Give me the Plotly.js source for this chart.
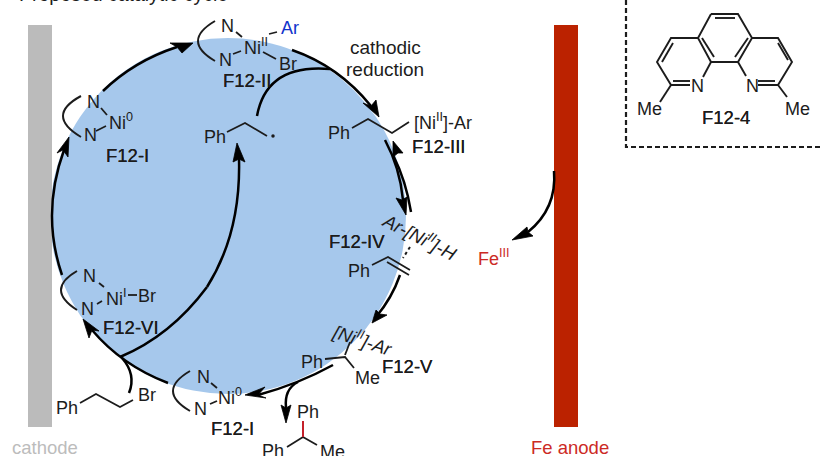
<!DOCTYPE html>
<html><head><meta charset="utf-8">
<script src="https://cdn.plot.ly/plotly-3.0.1.min.js"></script>
<style>html,body{margin:0;padding:0;background:#fff}#c{width:822px;height:456px}</style>
</head><body><div id="c"></div>
<script>
// Scheme geometry, in picture pixels (the axes run 0-822 and 456-0).
const discCentre = [228, 216], discRadius = 178;
const cathodeBar = [28, 25, 52, 427], anodeBar = [554, 25, 578, 427];

const thinBonds = [
  [[101,108],[107,115]], [[96,131],[106,126]],
  [[236,32],[242,37]], [[233,54],[241,51]], [[263,52],[276,59]],
  [[227,132],[245,123],[267,136]],
  [[352,128],[368,119],[392,133],[409,122]],
  [[372,265],[388,257],[410,270]], [[387,262],[409,275]],
  [[350,342],[345,355]], [[325,359],[345,357],[354,368]],
  [[287,447],[303,437],[317,445]],
  [[211,383],[217,388]], [[210,404],[217,401]],
  [[99,283],[104,287]], [[97,304],[102,301]], [[128,295],[137,295]],
  [[80,403],[96,394],[120,407],[133,400]]
];
const ringBonds = [
  [[711,14],[738,14],[752,38],[738,62],[711,62],[698,38],[711,14]],
  [[698,38],[671,38],[657,62],[671,85],[690,85]], [[703,77],[711,62]],
  [[752,38],[778,38],[792,62],[778,85],[758,85]], [[738,62],[746,76]],
  [[671,85],[660,102]], [[778,85],[787,97]],
  [[715,18],[735,18]], [[662,62],[673,43]], [[673,81],[690,81]],
  [[702,38],[714,57]], [[748,38],[735,57]], [[778,43],[788,60]], [[758,81],[775,81]]
];
const arylBond = [[[269,34],[277,32]]];
const redBond = [[[303,421],[303,437]]];
const hydrideBond = [[[410,247],[403,258]]];
const boxEdge = [[626,0],[626,147],[822,147]];

// Each curve: start, point half way along, end.
const ligandArcs = [
  [[81,96],[63,116],[81,137]],
  [[215,21],[198,41],[215,61]],
  [[190,371],[173,391],[190,411]],
  [[77,271],[61,290],[77,310]]
];
const cycleArcs = [
  [[62,275],[52,213],[64,150]],
  [[103,91],[137,65],[177,47]],
  [[292,50],[335,72],[371,106]],
  [[393,155],[404,182],[411,212]],
  [[385,140],[397,169],[403,200]],
  [[400,275],[390,297],[376,317]],
  [[333,365],[297,382],[258,395]],
  [[168,383],[126,361],[92,330]],
  [[120,357],[167,329],[207,287]],
  [[207,287],[232,228],[239,159]],
  [[330,69],[280,78],[257,116]],
  [[129,393],[131,375],[122,358]],
  [[298,382],[288,392],[286,408]],
  [[554,171],[549,205],[528,232]]
];
const arrowHeads = [
  [[69,137],[57,153],[63,150],[68,157]],
  [[193,43],[170,43],[177,47],[182,53]],
  [[379,117],[363,103],[371,106],[376,100]],
  [[393,141],[393,157],[398,153],[403,153]],
  [[406,215],[396,198],[402,200],[407,197]],
  [[372,323],[376,310],[380,314],[387,315]],
  [[245,395],[265,387],[258,395],[266,398]],
  [[83,319],[89,338],[92,330],[99,331]],
  [[237,143],[233,162],[239,159],[245,162]],
  [[286,423],[281,405],[286,408],[291,405]],
  [[512,240],[527,227],[528,232],[533,236]]
];
const radicalDot = [[273,136]];

const atomLabels = [
  ['N',93,102],['N',90,135],['Ni<sup>0</sup>',121,121],
  ['N',227,26],['N',225,60],['Ni<sup>II</sup>',256,46],['Br',288,64],
  ['Ph',215,137],
  ['Ph',339,133],['[Ni<sup>II</sup>]-Ar',443,121],
  ['Ph',359,271],
  ['Ph',312,362],['Me',367,378],
  ['Ph',308,412],['Ph',273,451],['Me',332,452],
  ['N',203,377],['N',200,409],['Ni<sup>0</sup>',230,396],
  ['N',89,276],['N',87,309],['Ni<sup>I</sup>',116,297],['Br',147,296],
  ['Ph',67,408],['Br',147,395],
  ['N',697,86],['N',752,86],['Me',649,109],['Me',797,109]
];
const compoundLabels = [
  ['F12-I',127,155],['F12-II',247,80],['F12-III',438,146],['F12-IV',357,241],
  ['F12-V',407,366],['F12-I',232,428],['F12-VI',131,327],['F12-4',726,117]
];
const stepLabels = [['cathodic',385,47],['reduction',385,69]];
const slantedLabels = [
  ['Ar-[Ni<sup>II</sup>]-H',420,236,27],
  ['[Ni<sup>II</sup>]-Ar',362,339,18]
];
const sectionTitle = 'Proposed catalytic cycle';
const cathodeName = 'cathode', anodeName = 'Fe anode', arylName = 'Ar', ironName = 'Fe<sup>III</sup>';

function flat(paths){
  const x=[],y=[];
  paths.forEach(p=>{p.forEach(q=>{x.push(q[0]);y.push(q[1]);});x.push(null);y.push(null);});
  return {x,y};
}
function lines(paths,color,width,dash){
  const f=flat(paths);
  return {type:'scatter',mode:'lines',x:f.x,y:f.y,hoverinfo:'skip',
    line:{color:color,width:width,dash:dash||'solid',simplify:false}};
}
function curve(a,color,width){
  const cx=2*a[1][0]-(a[0][0]+a[2][0])/2, cy=2*a[1][1]-(a[0][1]+a[2][1])/2;
  return {type:'path',xref:'x',yref:'y',layer:'above',
    path:`M ${a[0][0]} ${a[0][1]} Q ${cx} ${cy} ${a[2][0]} ${a[2][1]}`,
    line:{color:color,width:width},fillcolor:'rgba(0,0,0,0)'};
}
const INK='#1c1c1c', FONT='"Liberation Sans", Arial, sans-serif';

const traces = [];
traces.push(lines(thinBonds,INK,1.8));
traces.push(lines(ringBonds,INK,1.9));
traces.push(lines(arylBond,INK,1.8));
traces.push(lines(redBond,'#c4202a',2));
traces.push(lines(hydrideBond,INK,2,'3px,3px'));
traces.push(lines([boxEdge],INK,2.2,'5px,3px'));
arrowHeads.forEach(h=>{
  const c=h.concat([h[0]]);
  traces.push({type:'scatter',mode:'lines',x:c.map(p=>p[0]),y:c.map(p=>p[1]),fill:'toself',
    fillcolor:'#000',line:{color:'#000',width:0.8},hoverinfo:'skip'});
});
traces.push({type:'scatter',mode:'markers',x:radicalDot.map(p=>p[0]),y:radicalDot.map(p=>p[1]),
  marker:{color:INK,size:3.5},hoverinfo:'skip'});

const shapes = [
  {type:'circle',xref:'x',yref:'y',x0:discCentre[0]-discRadius,x1:discCentre[0]+discRadius,
   y0:discCentre[1]-discRadius,y1:discCentre[1]+discRadius,fillcolor:'#a6c8ec',line:{width:0},layer:'below'},
  {type:'rect',xref:'x',yref:'y',x0:cathodeBar[0],y0:cathodeBar[1],x1:cathodeBar[2],y1:cathodeBar[3],
   fillcolor:'#bbbbbb',line:{width:0},layer:'below'},
  {type:'rect',xref:'x',yref:'y',x0:anodeBar[0],y0:anodeBar[1],x1:anodeBar[2],y1:anodeBar[3],
   fillcolor:'#bb2200',line:{width:0},layer:'below'}
];
ligandArcs.forEach(a=>shapes.push(curve(a,INK,2)));
cycleArcs.forEach(a=>shapes.push(curve(a,'#000',2.5)));

function note(text,x,y,size,color,extra,fontExtra){
  return Object.assign({text:text,x:x,y:y,xref:'x',yref:'y',showarrow:false,xanchor:'center',yanchor:'middle',
    borderpad:0,font:Object.assign({family:FONT,size:size,color:color},fontExtra||{})},extra||{});
}
const annotations = [];
atomLabels.forEach(l=>annotations.push(note(l[0],l[1],l[2],18,INK)));
compoundLabels.forEach(l=>annotations.push(note(l[0],l[1],l[2],18.5,INK,null,{shadow:'0 0 0.4px #1c1c1c'})));
stepLabels.forEach(l=>annotations.push(note(l[0],l[1],l[2],19,INK)));
slantedLabels.forEach(l=>annotations.push(note('<i>'+l[0]+'</i>',l[1],l[2],18.5,INK,{textangle:l[3]})));
annotations.push(note(sectionTitle,18,1+6/456,19.5,INK,{xanchor:'left',yref:'paper'}));
annotations.push(note(arylName,290,28,18,'#1133cc'));
annotations.push(note(cathodeName,45,447,18.5,'#bcbcbc'));
annotations.push(note(anodeName,570,447,18.5,'#cc2a24'));
annotations.push(note(ironName,494,257,18,'#cc2a24'));

Plotly.newPlot('c',traces,{
  width:822,height:456,margin:{l:0,r:0,t:0,b:0},showlegend:false,
  paper_bgcolor:'#fff',plot_bgcolor:'#fff',
  xaxis:{range:[0,822],visible:false,fixedrange:true},
  yaxis:{range:[456,0],visible:false,fixedrange:true},
  shapes:shapes,annotations:annotations
},{displayModeBar:false,staticPlot:true});
</script></body></html>
